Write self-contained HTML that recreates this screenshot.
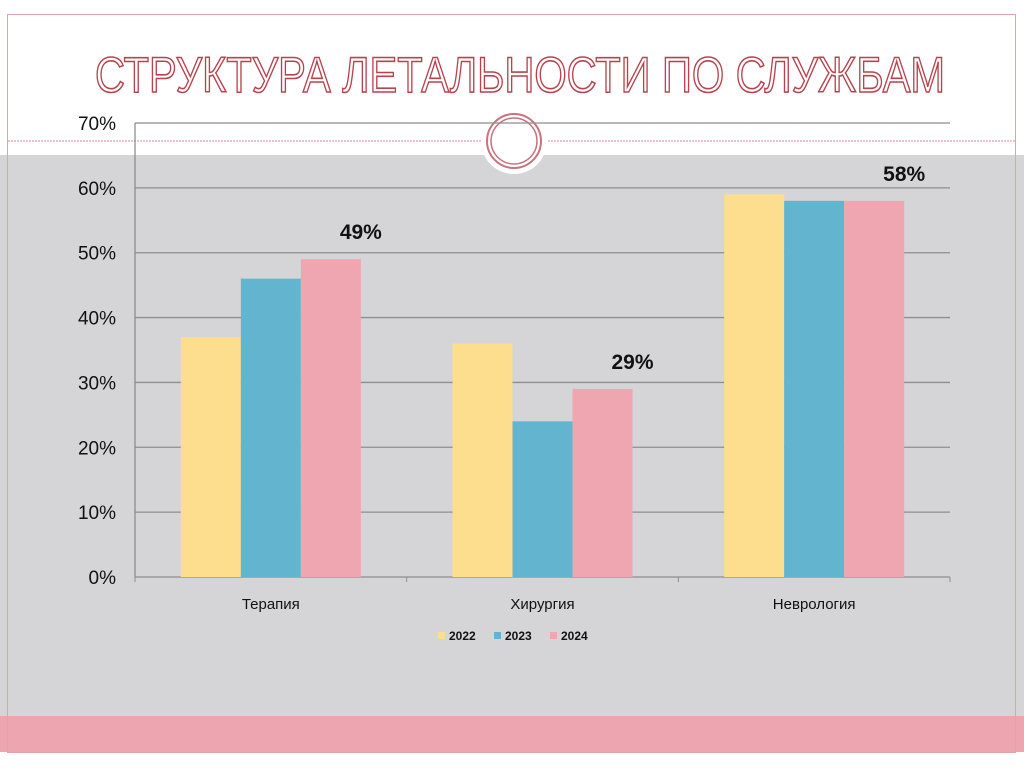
<!DOCTYPE html>
<html><head><meta charset="utf-8"><style>
body{margin:0;width:1024px;height:767px;overflow:hidden;background:#fff;font-family:"Liberation Sans",sans-serif}
</style></head><body>
<svg width="1024" height="767" viewBox="0 0 1024 767" xmlns="http://www.w3.org/2000/svg">
<rect x="0" y="0" width="1024" height="767" fill="#fff"/>
<rect x="0" y="155" width="1024" height="561" fill="#d5d5d8"/>
<rect x="0" y="716" width="1024" height="36" fill="#eda6b0"/>
<rect x="7.5" y="14.5" width="1008" height="738" fill="none" stroke="#e3a1a8" stroke-width="1"/>
<line x1="8" y1="141" x2="1015" y2="141" stroke="#d88a94" stroke-width="1" stroke-dasharray="2,1"/>
<circle cx="514" cy="141" r="33" fill="#fff"/>
<circle cx="514" cy="141" r="27" fill="#fff" stroke="#c9737f" stroke-width="2"/>
<circle cx="514" cy="141" r="23" fill="none" stroke="#c9737f" stroke-width="1.5"/>
<text x="520" y="92" text-anchor="middle" font-family="'Liberation Sans Narrow','Liberation Sans',sans-serif" font-size="50" textLength="850" lengthAdjust="spacingAndGlyphs" fill="#fff" stroke="#b8434f" stroke-width="1.6">СТРУКТУРА ЛЕТАЛЬНОСТИ ПО СЛУЖБАМ</text>
<g id="chart"></g>
</svg>
<script>
const categories=["Терапия","Хирургия","Неврология"];
const s2022=[37,36,59];
const s2023=[46,24,58];
const s2024=[49,29,58];
const yTicks=[0,10,20,30,40,50,60,70];
const shownLabels=["49%","29%","58%"];
const NS="http://www.w3.org/2000/svg";
const g=document.getElementById('chart');
const x0=135,x1=950,yBase=577,yTop=123,yMax=70;
const y=v=>yBase-(v/yMax)*(yBase-yTop);
const catW=(x1-x0)/categories.length;
const barW=60;
function el(t,a,txt){const e=document.createElementNS(NS,t);for(const k in a)e.setAttribute(k,a[k]);if(txt!==undefined)e.textContent=txt;g.appendChild(e);return e;}
yTicks.forEach(t=>{
 const l=el('line',{x1:x0,x2:x1,y1:y(t),y2:y(t),stroke:'#8e8e8e','stroke-width':1.3});
 
 
 const tx=el('text',{x:116,y:y(t)+7,'text-anchor':'end','font-size':19,fill:'#111'},t+'%');
 
 
});
const ax=el('line',{x1:x0,x2:x0,y1:yTop,y2:yBase,stroke:'#8e8e8e','stroke-width':1.3});


for(let i=0;i<=categories.length;i++){
 el('line',{x1:x0+i*catW,x2:x0+i*catW,y1:yBase,y2:yBase+5,stroke:'#8e8e8e'});
}
const series=[s2022,s2023,s2024];
const colors=['#fddd8e','#62b4cf','#efa6b1'];
categories.forEach((c,i)=>{
 const start=x0+i*catW+(catW-barW*3)/2;
 series.forEach((s,j)=>{
  const r=el('rect',{x:start+j*barW,y:y(s[i]),width:barW,height:yBase-y(s[i]),fill:colors[j]});
  
  
 });
 const lb=el('text',{x:start+2.5*barW+30,y:y(s2024[i])-20,'text-anchor':'middle','font-size':21,'font-weight':'bold',fill:'#111'},shownLabels[i]);
 
 
 const cl=el('text',{x:x0+(i+0.5)*catW,y:609,'text-anchor':'middle','font-size':15,fill:'#111'},c);
 
 
});
const lx=[438,494,550];
['2022','2023','2024'].forEach((n,j)=>{
 const sq=el('rect',{x:lx[j],y:632,width:7,height:7,fill:colors[j]});
 
 
 const t=el('text',{x:lx[j]+11,y:640,'font-size':12,'font-weight':'bold',fill:'#111'},n);
 
 
});
</script>
</body></html>
